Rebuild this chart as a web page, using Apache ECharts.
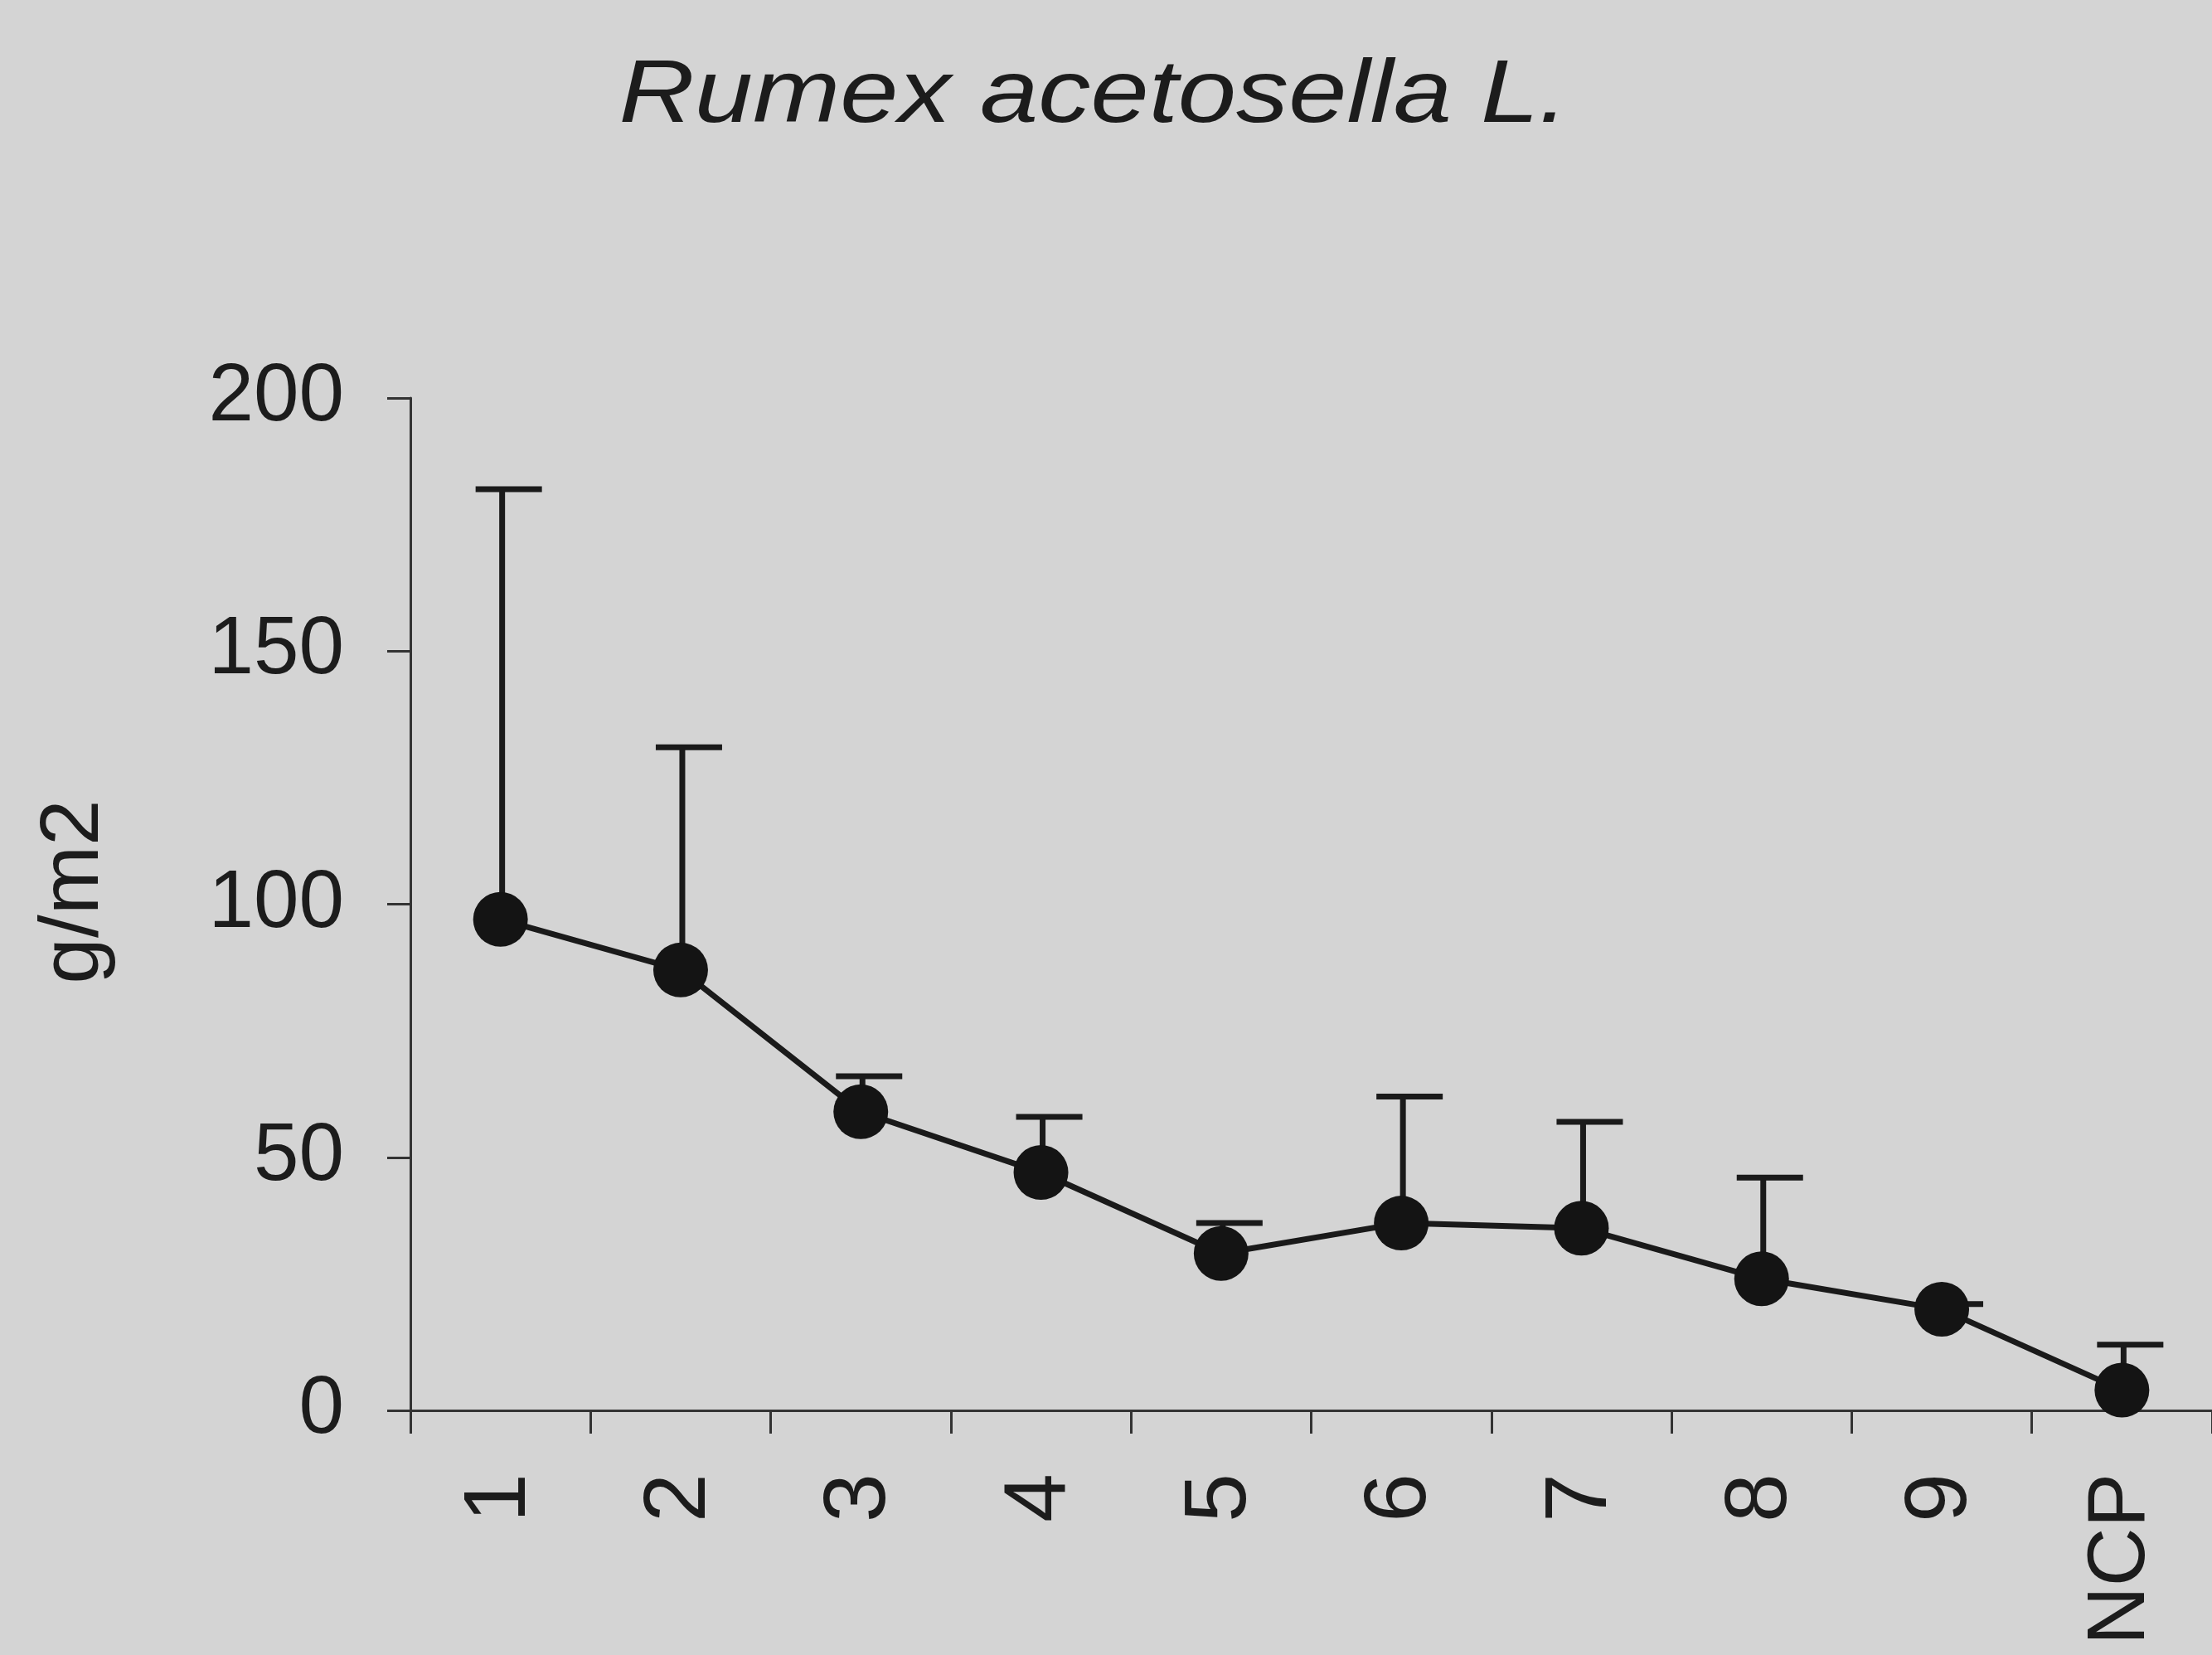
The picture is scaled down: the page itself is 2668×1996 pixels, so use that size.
<!DOCTYPE html>
<html>
<head>
<meta charset="utf-8">
<script src="https://cdn.jsdelivr.net/npm/echarts@6/dist/echarts.min.js"></script>
<style>
html,body{margin:0;padding:0;background:#d4d4d4;}
#c{width:2668px;height:1996px;}
</style>
</head>
<body>
<div id="c"></div>
<script>
var categories = ['1','2','3','4','5','6','7','8','9','NCP'];
var means = [97, 87, 59, 47, 31, 37, 36, 26, 20, 4];
var upper = [182, 131, 66, 58, 37, 62, 57, 46, 21, 13];
var yTicks = [0, 50, 100, 150, 200];

var chart = echarts.init(document.getElementById('c'));
var ink = '#1c1c1c';
var FF = '"Liberation Sans", Arial, sans-serif';
var errData = categories.map(function(c, i){ return [i, means[i], upper[i]]; });

chart.setOption({
  backgroundColor: '#d4d4d4',
  animation: false,
  graphic: [{
    type: 'text',
    x: 1319, y: 117,
    scaleX: 1.17,
    style: {
      text: 'Rumex acetosella L.',
      font: 'italic 108px ' + FF,
      fill: ink,
      textAlign: 'center',
      textVerticalAlign: 'middle'
    }
  }],
  grid: { left: 495, right: 0, top: 480, bottom: 295, containLabel: false },
  xAxis: {
    type: 'category',
    data: categories,
    boundaryGap: true,
    axisLine: { lineStyle: { color: '#333', width: 3 } },
    axisTick: { show: true, length: 28, lineStyle: { color: '#333', width: 3 } },
    axisLabel: {
      rotate: 90, margin: 76, color: ink, fontFamily: FF, fontSize: 98,
      formatter: function(v){ return v === 'NCP' ? '{n|' + v + '}' : '{d|' + v + '}'; },
      rich: {
        d: { fontSize: 106, fontFamily: FF, color: ink },
        n: { fontSize: 98, fontFamily: FF, color: ink }
      }
    },
    splitLine: { show: false }
  },
  yAxis: {
    type: 'value',
    min: 0, max: 200, interval: 50,
    name: 'g/m2',
    nameLocation: 'middle',
    nameRotate: 90,
    nameGap: 355,
    nameTextStyle: { fontSize: 100, color: ink, fontFamily: FF, padding: [0, 0, 0, 30] },
    axisLine: { show: true, lineStyle: { color: '#333', width: 3 } },
    axisTick: { show: true, length: 28, lineStyle: { color: '#333', width: 3 } },
    axisLabel: {
      margin: 80, fontSize: 98, color: ink, fontFamily: FF,
      formatter: function(v){ return yTicks.indexOf(v) >= 0 ? String(v) : ''; }
    },
    splitLine: { show: false }
  },
  series: [{
    type: 'custom',
    z: 1,
    data: errData,
    renderItem: function(params, api){
      var p0 = api.coord([api.value(0), api.value(1)]);
      var p1 = api.coord([api.value(0), api.value(2)]);
      var st = { stroke: '#1a1a1a', lineWidth: 7 };
      return { type: 'group', children: [
        { type: 'line', shape: { x1: p0[0]+2, y1: p0[1], x2: p1[0]+2, y2: p1[1] }, style: st },
        { type: 'line', shape: { x1: p1[0]-30, y1: p1[1], x2: p1[0]+50, y2: p1[1] }, style: st }
      ]};
    }
  }, {
    type: 'line',
    z: 3,
    data: means,
    symbol: 'circle',
    symbolSize: 66,
    lineStyle: { color: '#1a1a1a', width: 7 },
    itemStyle: { color: '#141414' }
  }]
});
</script>
</body>
</html>
